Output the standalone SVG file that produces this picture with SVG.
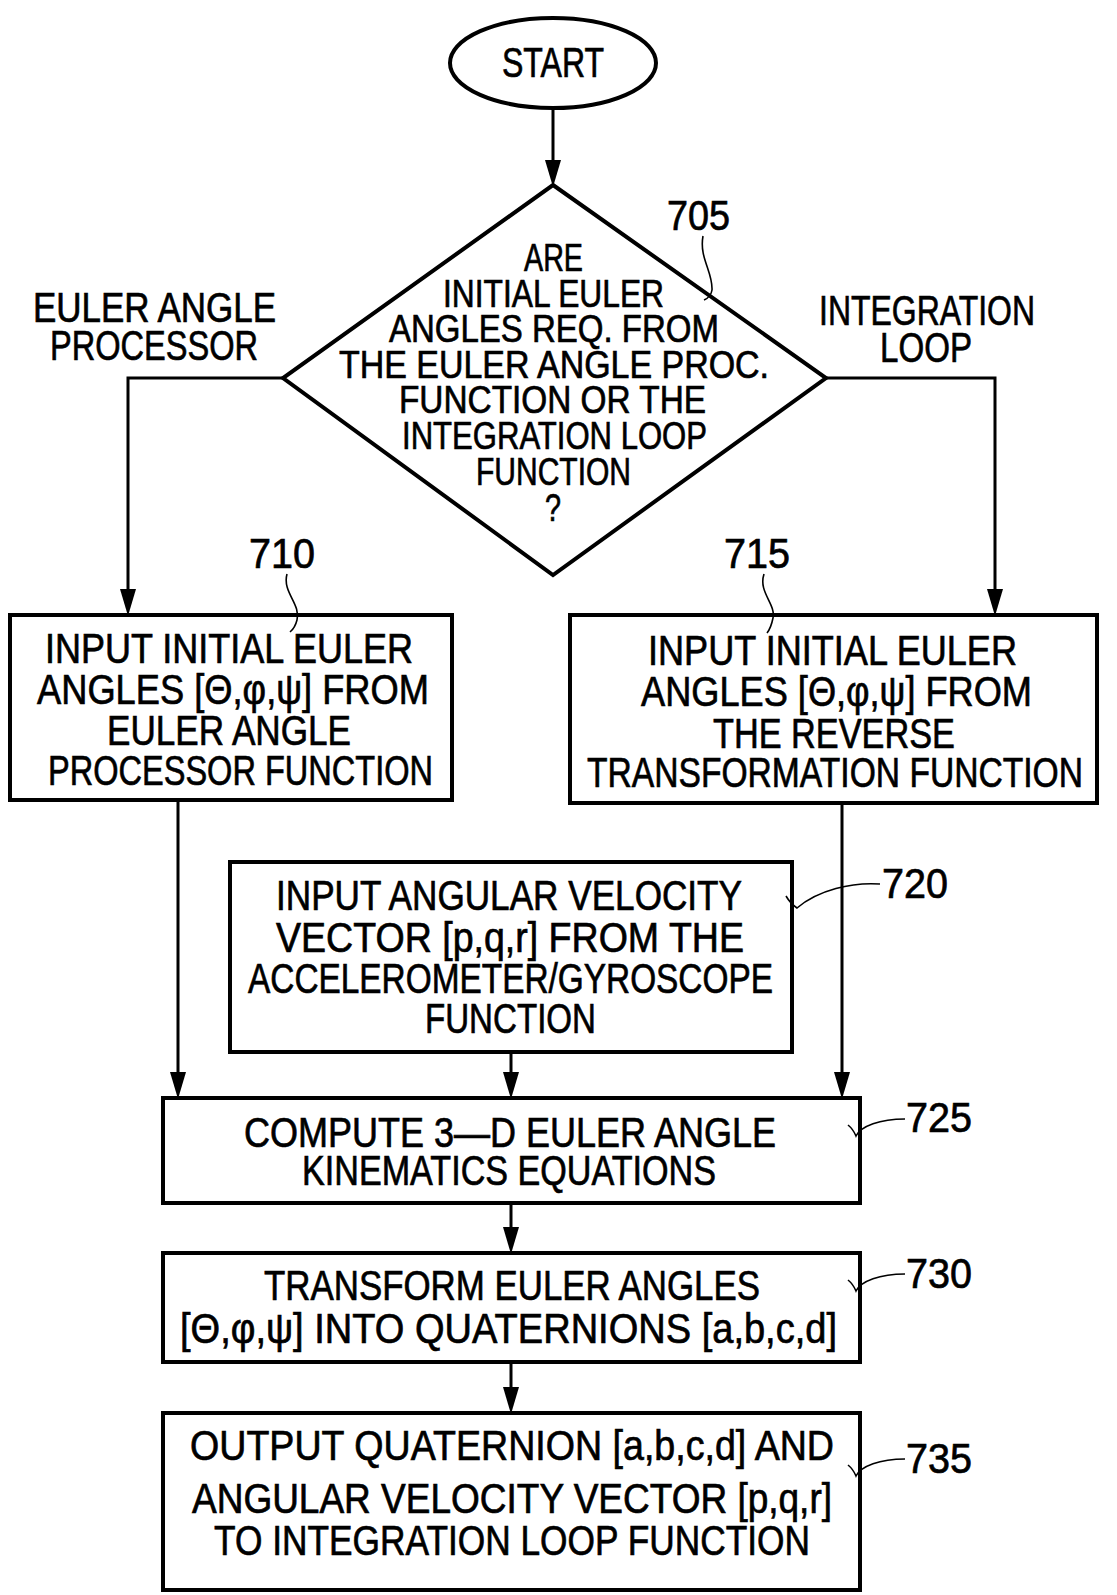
<svg xmlns="http://www.w3.org/2000/svg" width="1117" height="1595" viewBox="0 0 1117 1595" xml:space="preserve">
<style>
.t{font-family:"Liberation Sans Narrow","Liberation Sans",Arial,sans-serif;font-size:42px;fill:#000;stroke:#000;stroke-width:0.7}
.d{font-size:38px}
.b{fill:#fff;stroke:#000;stroke-width:4}
.c{fill:none;stroke:#000;stroke-width:3}
.l{fill:none;stroke:#000;stroke-width:1.6}
.h{fill:#000}
</style>
<rect width="1117" height="1595" fill="#fff"/>

<g id="connectors">
<path class="c" d="M553,108 V170"/>
<path class="c" d="M283,378 H128 V600"/>
<path class="c" d="M826,378 H995 V600"/>
<path class="c" d="M178,800 V1085"/>
<path class="c" d="M511,1052 V1085"/>
<path class="c" d="M842,803 V1085"/>
<path class="c" d="M511,1203 V1240"/>
<path class="c" d="M511,1362 V1400"/>
<path class="h" d="M545,160 L561,160 L553,187 Z"/>
<path class="h" d="M120,589 L136,589 L128,616 Z"/>
<path class="h" d="M987,589 L1003,589 L995,616 Z"/>
<path class="h" d="M170,1072 L186,1072 L178,1099 Z"/>
<path class="h" d="M503,1072 L519,1072 L511,1099 Z"/>
<path class="h" d="M834,1072 L850,1072 L842,1099 Z"/>
<path class="h" d="M503,1227 L519,1227 L511,1254 Z"/>
<path class="h" d="M503,1387 L519,1387 L511,1414 Z"/>
</g>

<g id="start">
<ellipse class="b" cx="553" cy="63" rx="103" ry="45"/>
<text class="t" x="502" y="77" textLength="102" lengthAdjust="spacingAndGlyphs" font-size="39">START</text>
</g>

<g id="n705">
<polygon class="b" points="553,185 826,378 553,575 283,378"/>
<text class="t d" x="524" y="271" textLength="59" lengthAdjust="spacingAndGlyphs">ARE</text>
<text class="t d" x="443" y="307" textLength="221" lengthAdjust="spacingAndGlyphs">INITIAL  EULER</text>
<text class="t d" x="389" y="342" textLength="330" lengthAdjust="spacingAndGlyphs">ANGLES  REQ.  FROM</text>
<text class="t d" x="339" y="378" textLength="430" lengthAdjust="spacingAndGlyphs">THE  EULER  ANGLE  PROC.</text>
<text class="t d" x="399" y="413" textLength="307" lengthAdjust="spacingAndGlyphs">FUNCTION  OR  THE</text>
<text class="t d" x="402" y="449" textLength="305" lengthAdjust="spacingAndGlyphs">INTEGRATION  LOOP</text>
<text class="t d" x="476" y="485" textLength="155" lengthAdjust="spacingAndGlyphs">FUNCTION</text>
<text class="t d" x="545" y="521" textLength="16" lengthAdjust="spacingAndGlyphs" font-size="32">?</text>
<text class="t" x="667" y="230" textLength="63" lengthAdjust="spacingAndGlyphs">705</text>
<path class="l" d="M703,236 C699,258 713,272 712,290 Q711,297 704,300"/>
</g>

<g id="branch-labels">
<text class="t" x="33" y="322" textLength="243" lengthAdjust="spacingAndGlyphs">EULER  ANGLE</text>
<text class="t" x="50" y="360" textLength="208" lengthAdjust="spacingAndGlyphs">PROCESSOR</text>
<text class="t" x="819" y="325" textLength="216" lengthAdjust="spacingAndGlyphs">INTEGRATION</text>
<text class="t" x="880" y="362" textLength="92" lengthAdjust="spacingAndGlyphs">LOOP</text>
</g>

<g id="n710">
<rect class="b" x="10" y="615" width="442" height="185"/>
<text class="t" x="45" y="663" textLength="368" lengthAdjust="spacingAndGlyphs">INPUT  INITIAL  EULER</text>
<text class="t" x="37" y="704" textLength="392" lengthAdjust="spacingAndGlyphs">ANGLES  [Θ,φ,ψ]  FROM</text>
<text class="t" x="107" y="745" textLength="244" lengthAdjust="spacingAndGlyphs">EULER  ANGLE</text>
<text class="t" x="48" y="785" textLength="385" lengthAdjust="spacingAndGlyphs">PROCESSOR  FUNCTION</text>
<text class="t" x="249" y="568" textLength="66" lengthAdjust="spacingAndGlyphs">710</text>
<path class="l" d="M287,574 C282,592 301,604 297,620 Q295,628 290,632"/>
</g>

<g id="n715">
<rect class="b" x="570" y="615" width="527" height="188"/>
<text class="t" x="648" y="665" textLength="369" lengthAdjust="spacingAndGlyphs">INPUT  INITIAL  EULER</text>
<text class="t" x="641" y="706" textLength="391" lengthAdjust="spacingAndGlyphs">ANGLES  [Θ,φ,ψ]  FROM</text>
<text class="t" x="713" y="748" textLength="242" lengthAdjust="spacingAndGlyphs">THE  REVERSE</text>
<text class="t" transform="translate(587,787) scale(0.8,1)" x="0" y="0" textLength="620" lengthAdjust="spacingAndGlyphs" font-size="41">TRANSFORMATION  FUNCTION</text>
<text class="t" x="724" y="568" textLength="66" lengthAdjust="spacingAndGlyphs">715</text>
<path class="l" d="M764,574 C758,592 776,604 773,618 Q771,628 767,633"/>
</g>

<g id="n720">
<rect class="b" x="230" y="862" width="562" height="190"/>
<text class="t" x="276" y="910" textLength="466" lengthAdjust="spacingAndGlyphs">INPUT  ANGULAR  VELOCITY</text>
<text class="t" x="276" y="952" textLength="468" lengthAdjust="spacingAndGlyphs">VECTOR  [p,q,r]  FROM  THE</text>
<text class="t" x="248" y="993" textLength="525" lengthAdjust="spacingAndGlyphs">ACCELEROMETER/GYROSCOPE</text>
<text class="t" x="425" y="1033" textLength="171" lengthAdjust="spacingAndGlyphs">FUNCTION</text>
<text class="t" x="882" y="898" textLength="66" lengthAdjust="spacingAndGlyphs">720</text>
<path class="l" d="M880,884 C852,882 818,890 797,908 Q790,903 786,896"/>
</g>

<g id="n725">
<rect class="b" x="163" y="1098" width="697" height="105"/>
<text class="t" x="244" y="1147" textLength="532" lengthAdjust="spacingAndGlyphs">COMPUTE  3—D  EULER  ANGLE</text>
<text class="t" x="302" y="1185" textLength="414" lengthAdjust="spacingAndGlyphs">KINEMATICS  EQUATIONS</text>
<text class="t" x="906" y="1132" textLength="66" lengthAdjust="spacingAndGlyphs">725</text>
<path class="l" d="M905,1119 C880,1119 861,1126 856,1136 Q853,1129 848,1125"/>
</g>

<g id="n730">
<rect class="b" x="163" y="1253" width="697" height="109"/>
<text class="t" x="264" y="1300" textLength="496" lengthAdjust="spacingAndGlyphs">TRANSFORM  EULER  ANGLES</text>
<text class="t" x="180" y="1343" textLength="657" lengthAdjust="spacingAndGlyphs">[Θ,φ,ψ]  INTO  QUATERNIONS  [a,b,c,d]</text>
<text class="t" x="906" y="1288" textLength="66" lengthAdjust="spacingAndGlyphs">730</text>
<path class="l" d="M905,1274 C880,1274 861,1281 856,1291 Q853,1284 848,1280"/>
</g>

<g id="n735">
<rect class="b" x="163" y="1413" width="697" height="177"/>
<text class="t" x="190" y="1460" textLength="644" lengthAdjust="spacingAndGlyphs">OUTPUT  QUATERNION  [a,b,c,d]  AND</text>
<text class="t" x="192" y="1513" textLength="640" lengthAdjust="spacingAndGlyphs">ANGULAR  VELOCITY  VECTOR  [p,q,r]</text>
<text class="t" x="214" y="1555" textLength="596" lengthAdjust="spacingAndGlyphs">TO  INTEGRATION  LOOP  FUNCTION</text>
<text class="t" x="906" y="1473" textLength="66" lengthAdjust="spacingAndGlyphs">735</text>
<path class="l" d="M905,1459 C880,1459 861,1466 856,1476 Q853,1469 848,1465"/>
</g>
</svg>
